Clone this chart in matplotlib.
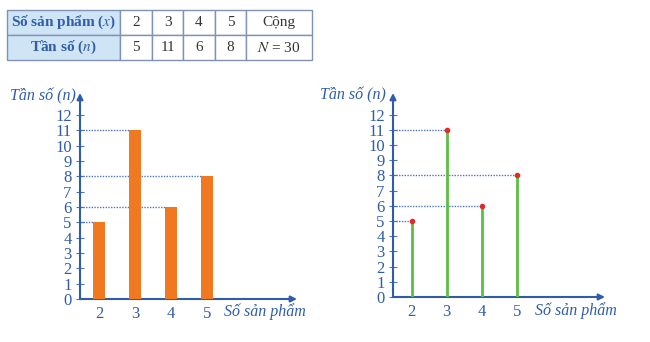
import matplotlib.pyplot as plt

# ==========================================
# Data
# ==========================================

so_san_pham = [2, 3, 4, 5]
tan_so = [5, 11, 6, 8]
y_ticks = list(range(0, 13))

header_x = "Số sản phẩm ($x$)"
header_n = "Tần số ($n$)"
total_label = "Cộng"
total_value = "$N$ = 30"

BLUE = "#2f5cab"
GUIDE = "#4d74bf"
ORANGE = "#f07820"
GREEN = "#5cbf45"
RED = "#e02b2b"

plt.rcParams["font.family"] = ["Liberation Serif", "DejaVu Serif"]
plt.rcParams["mathtext.fontset"] = "stix"

W, H = 650, 342
fig = plt.figure(figsize=(W / 100, H / 100), dpi=100)


def px_rect(left, top, right, bottom):
    # convert pixel box to figure fraction
    return [left / W, (H - bottom) / H, (right - left) / W, (bottom - top) / H]


# ==========================================
# Table
# ==========================================

tax = fig.add_axes(px_rect(7, 10, 312, 60))
tax.axis("off")
cells = [
    [header_x] + [str(v) for v in so_san_pham] + [total_label],
    [header_n] + [str(v) for v in tan_so] + [total_value],
]
col_w = [113, 32, 31, 32, 31, 66]
tbl = tax.table(cellText=cells, colWidths=[c / sum(col_w) for c in col_w],
                bbox=[0, 0, 1, 1], cellLoc="center")
tbl.auto_set_font_size(False)
for (r, c), cell in tbl.get_celld().items():
    cell.set_edgecolor("#7f93b3")
    cell.set_linewidth(1.0)
    cell.get_text().set_fontsize(11)
    if c == 0:
        cell.set_facecolor("#cfe5f5")
        cell.get_text().set_color(BLUE)
        cell.get_text().set_fontweight("bold")
    else:
        cell.get_text().set_color("#333333")


# ==========================================
# Axes helper
# ==========================================

def setup_axes(rect):
    ax = fig.add_axes(rect)
    ax.set_xlim(1.47, 7.5)
    ax.set_ylim(0, 13.43)
    for s in ax.spines.values():
        s.set_visible(False)
    ax.annotate("", xy=(0, 1), xytext=(0, 0), xycoords="axes fraction",
                arrowprops=dict(arrowstyle="-|>", color=BLUE, lw=1.5,
                                mutation_scale=9, shrinkA=0, shrinkB=0))
    ax.annotate("", xy=(1, 0), xytext=(0, 0), xycoords="axes fraction",
                arrowprops=dict(arrowstyle="-|>", color=BLUE, lw=1.5,
                                mutation_scale=9, shrinkA=0, shrinkB=0))
    ax.set_yticks(y_ticks)
    ax.set_xticks(so_san_pham)
    ax.tick_params(axis="y", direction="inout", length=6, width=0.8,
                   color=GUIDE, labelcolor=BLUE, labelsize=12, pad=3)
    ax.tick_params(axis="x", length=0, labelcolor=BLUE, labelsize=12, pad=5)
    ax.patch.set_alpha(0)
    return ax


# ==========================================
# Left chart - bar chart
# ==========================================

ax1 = setup_axes(px_rect(80, 93, 297, 299))
bar_w = 0.34
ax1.bar(so_san_pham, tan_so, width=bar_w, color=ORANGE, zorder=3)
for x, v in zip(so_san_pham, tan_so):
    ax1.hlines(v, 1.47, x - bar_w / 2, colors=GUIDE, lw=1.0,
               linestyles=(0, (1, 1)), zorder=2)

fig.text(10 / W, 1 - 96 / H, "Tần số (n)", color=BLUE, fontsize=11.5,
         style="italic", va="center", ha="left")
fig.text(224 / W, 1 - 312 / H, "Số sản phẩm", color=BLUE, fontsize=11.5,
         style="italic", va="center", ha="left")

# ==========================================
# Right chart - stem chart
# ==========================================

ax2 = setup_axes(px_rect(393, 93, 605, 297))
ax2.vlines(so_san_pham, 0, tan_so, colors=GREEN, lw=2, zorder=3)
ax2.scatter(so_san_pham, tan_so, s=9, color=RED, zorder=4)
for x, v in zip(so_san_pham, tan_so):
    ax2.hlines(v, 1.47, x, colors=GUIDE, lw=1.0,
               linestyles=(0, (1, 1)), zorder=2)

fig.text(320 / W, 1 - 95 / H, "Tần số (n)", color=BLUE, fontsize=11.5,
         style="italic", va="center", ha="left")
fig.text(535 / W, 1 - 311 / H, "Số sản phẩm", color=BLUE, fontsize=11.5,
         style="italic", va="center", ha="left")

fig.savefig("out.png", dpi=100)
